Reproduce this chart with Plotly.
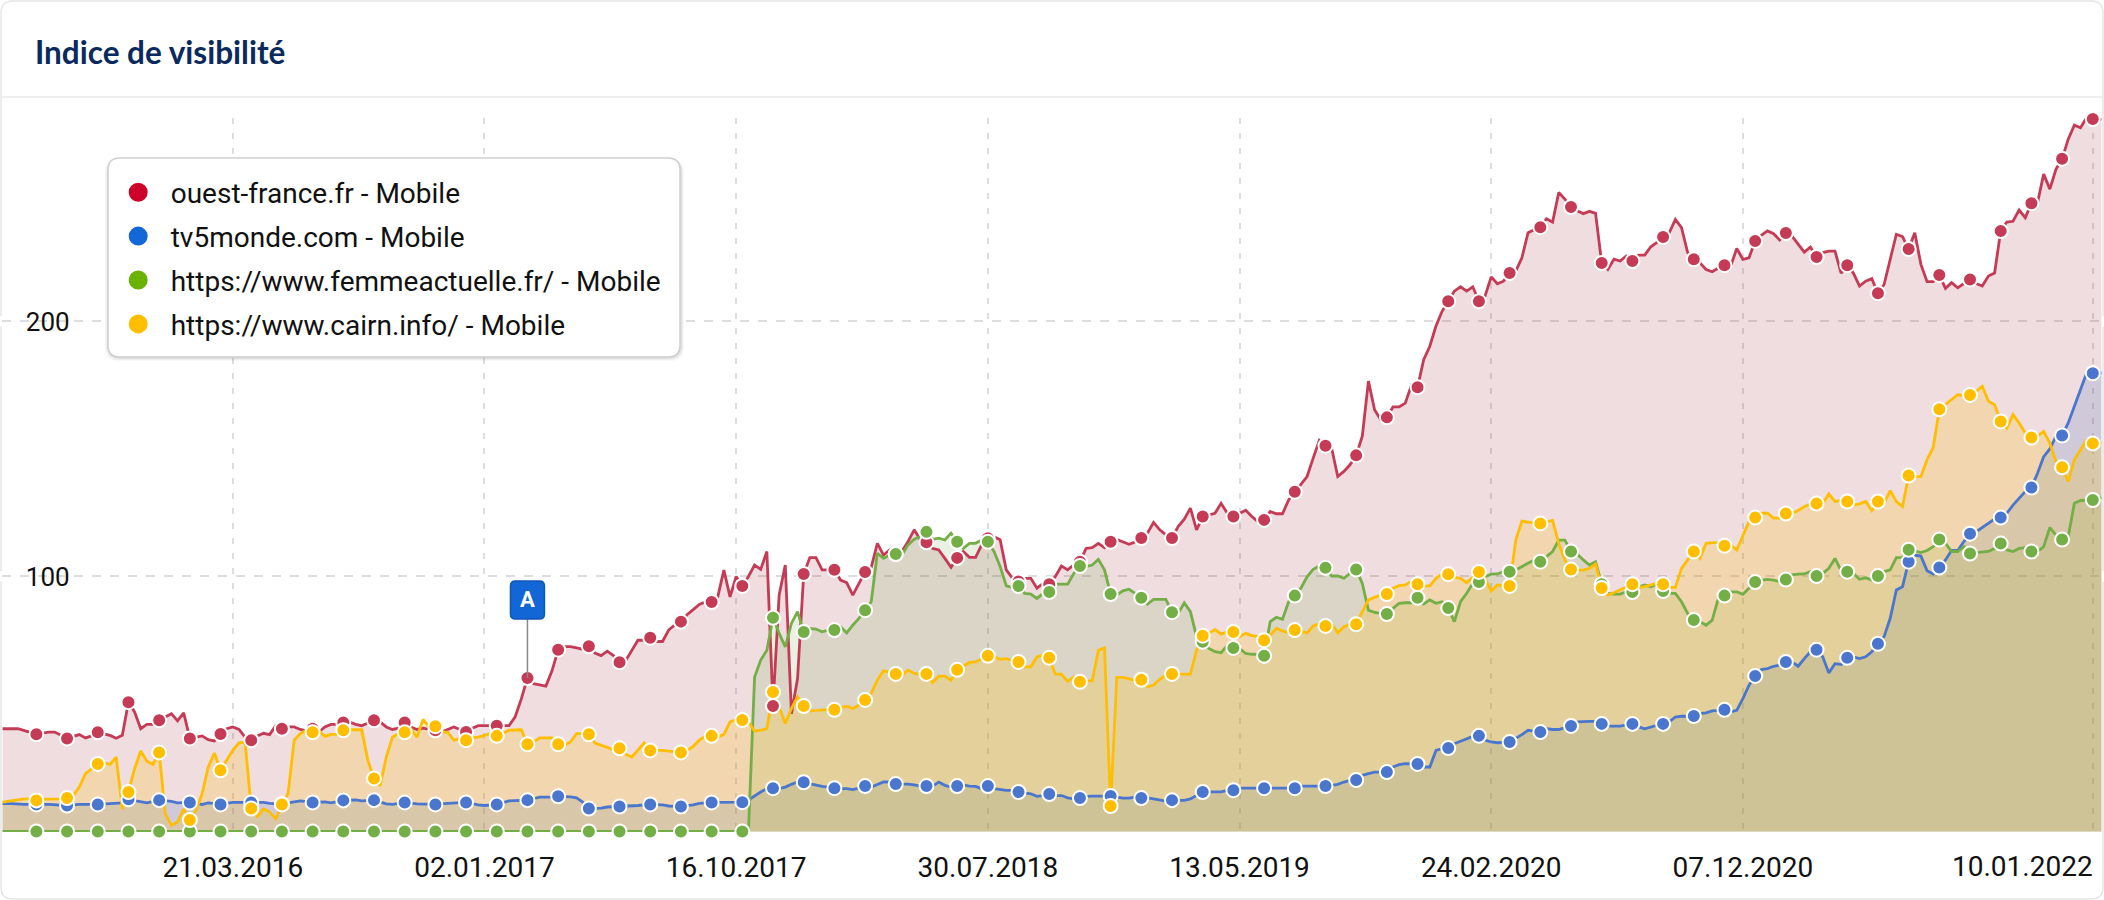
from datetime import datetime, timedelta
import plotly.graph_objects as go

START = datetime(2016, 3, 21)

tick_dates = ["2016-03-21", "2017-01-02", "2017-10-16", "2018-07-30", "2019-05-13",
              "2020-02-24", "2020-12-07", "2022-01-10"]
tick_labels = ["21.03.2016", "02.01.2017", "16.10.2017", "30.07.2018", "13.05.2019",
               "24.02.2020", "07.12.2020", ""]
last_tick_label = "10.01.2022"

# weeks counted from 21.03.2016; a dot every five weeks
dot_weeks = [-32 + 5 * k for k in range(68)]

ouest_dots = [38.1, 36.5, 38.9, 50.7, 43.6, 36.5, 38.2, 35.8, 40.3, 40.3, 42.7, 43.6, 42.7, 39.7, 39.0, 41.5, 60.2,
              71.3, 72.6, 66.4, 76.0, 82.3, 90.0, 96.3, 49.2, 101.0, 102.6, 101.8, 108.8, 113.4, 107.3, 115.0, 98.0,
              97.0, 105.8, 113.6, 115.1, 115.1, 123.5, 123.5, 122.2, 133.2, 151.3, 147.5, 162.4, 174.2, 207.9, 207.9,
              219.0, 237.0, 244.9, 222.9, 223.7, 233.1, 224.4, 222.1, 231.6, 234.7, 225.3, 222.1, 211.1, 228.4, 218.2,
              216.5, 235.5, 246.4, 263.8, 279.4]
tv5_dots = [10.6, 10.2, 10.6, 12.6, 12.3, 11.4, 10.6, 11.4, 10.8, 11.4, 12.2, 12.3, 11.4, 10.6, 11.4, 10.6, 12.3,
            13.8, 9.0, 9.8, 10.6, 9.8, 11.4, 11.5, 17.0, 19.3, 17.0, 17.8, 18.6, 17.8, 17.8, 17.8, 15.5, 14.7, 13.1,
            13.9, 13.1, 12.3, 15.5, 16.2, 17.0, 17.0, 17.8, 20.2, 23.3, 26.5, 32.7, 37.5, 35.1, 39.0, 41.4, 42.2, 42.2,
            42.2, 45.3, 47.7, 61.0, 66.5, 71.3, 68.1, 73.6, 105.8, 103.5, 116.8, 123.1, 134.9, 155.3, 179.7]
femme_dots = [0.0] * 24 + [83.8, 78.2, 79.0, 86.8, 108.8, 117.5, 113.6, 113.6, 96.3, 93.9, 104.1, 93.1, 91.7, 86.0,
                            74.4, 72.0, 68.9, 92.5, 103.4, 102.7, 85.3, 91.7, 87.6, 97.8, 101.9, 105.8, 109.8, 97.0,
                            93.9, 94.3, 82.9, 92.5, 97.8, 98.8, 100.2, 101.9, 100.2, 110.5, 114.5, 109.0, 112.9, 109.8,
                            114.5, 130.0]
cairn_dots = [12.2, 13.1, 26.5, 15.5, 31.0, 4.5, 24.0, 9.0, 10.6, 38.9, 39.7, 20.8, 38.9, 41.3, 35.8, 37.5, 34.2, 34.2,
              38.1, 32.6, 31.8, 31.0, 37.5, 43.7, 54.7, 49.2, 47.7, 51.6, 61.8, 61.8, 63.4, 68.9, 66.5, 68.1, 58.7, 10.0,
              59.5, 61.8, 76.8, 78.2, 75.0, 79.0, 80.6, 81.3, 93.1, 97.0, 100.9, 101.8, 96.3, 120.8, 102.7, 95.5, 97.0,
              97.0, 109.8, 112.1, 123.1, 124.7, 128.6, 129.4, 129.4, 139.6, 165.6, 171.2, 160.8, 154.5, 142.8, 152.2]

# readings of the line between the dots: week -> value
ouest_between = {
    -37.5: 40.3, -35: 40.3, -33: 38.9, -30: 39, -29: 39, -25: 38, -24: 36.7, -23: 37.5, -20: 37.7, -19: 36.6, -18: 37.7,
    -16: 46.9, -15: 40.3, -14: 42, -13: 42, -10: 46.2, -9: 43.4, -8: 46.5, -5: 37.5, -4: 36, -3: 35.5, -1: 40.3, 0: 41,
    1: 40, 2: 37, 4: 37.5, 5: 38.5, 6: 38, 7: 41.5, 9: 41, 10: 41, 11: 40, 12: 39.5, 14: 39, 15: 41, 16: 42, 17: 42,
    19: 43, 20: 42, 21: 41.5, 22: 42.5, 24: 43, 25: 41, 26: 40, 27: 40.5, 29: 41, 30: 40, 31: 40.5, 32: 40, 34: 39,
    35: 40, 36: 41, 37: 40, 39: 40.5, 40: 41.5, 41: 41.5, 42: 41.5, 44: 41.5, 45: 41.5, 46: 45, 47: 52, 49: 58, 50: 57.5,
    51: 57, 52: 63, 54: 72.5, 55: 72.5, 56: 72, 57: 71.5, 59: 70, 60: 69, 61: 70.7, 62: 69, 64: 67, 65: 71, 66: 75, 67: 75,
    69: 74.5, 70: 74.5, 71: 79, 72: 81, 74: 85, 75: 87, 76: 89, 77: 90, 79: 92, 80: 102.5, 81: 92, 82: 100, 84: 100,
    85: 104.5, 86: 102.8, 87: 109.8, 89: 92.7, 90: 104.5, 91: 46.2, 92: 60, 94: 107.4, 95: 107.4, 96: 102.6, 97: 102.6,
    99: 98.6, 100: 97.6, 101: 92.7, 102: 97, 104: 103.6, 105: 113, 106: 108.4, 107: 110.4, 109: 109.8, 110: 113.7,
    111: 118.3, 112: 114.4, 114: 111, 115: 110.4, 116: 107.1, 117: 103.6, 119: 109.8, 120: 107.5, 121: 107.5, 122: 112.4,
    124: 115.6, 125: 114.4, 126: 102.6, 127: 99.3, 129: 99.3, 130: 99.3, 131: 95.4, 132: 97.3, 134: 100, 135: 104.1,
    136: 102.6, 137: 104.5, 139: 111, 140: 111.3, 141: 113, 142: 111.3, 144: 114.5, 145: 113.7, 146: 112.6, 147: 113.5,
    149: 117, 150: 121.2, 151: 118.3, 152: 116.3, 154: 119.6, 155: 122.5, 156: 126.8, 157: 118.3, 159: 124, 160: 124.8,
    161: 128.7, 162: 124.8, 164: 124.8, 165: 126, 166: 123.5, 167: 121.5, 169: 125.5, 170: 124.6, 171: 124.6, 172: 130,
    174: 136, 175: 139.2, 176: 146.4, 177: 153.4, 179: 150.4, 180: 139.2, 181: 141.2, 182: 143.8, 184: 155, 185: 176.6,
    186: 165.4, 187: 161.5, 189: 166.5, 190: 166.5, 191: 168, 192: 175, 194: 185, 195: 190.3, 196: 198.2, 197: 204,
    199: 211.9, 200: 213.6, 201: 211.9, 202: 213.6, 204: 210, 205: 217.5, 206: 214.8, 207: 215.8, 209: 219.8, 210: 225,
    211: 234.8, 212: 236, 214: 240.3, 215: 239, 216: 250.6, 217: 248, 219: 243.4, 220: 242.3, 221: 243.2, 222: 242.4,
    224: 220.4, 225: 224.4, 226: 223.7, 227: 225.7, 229: 226, 230: 226, 231: 229.3, 232: 231, 234: 234.8, 235: 240,
    236: 236.8, 237: 227, 239: 223, 240: 220.4, 241: 219.5, 242: 221, 244: 221.7, 245: 228.6, 246: 224.4, 247: 225,
    249: 233.8, 250: 235.5, 251: 234.4, 252: 232, 254: 233.5, 255: 230.3, 256: 227.2, 257: 229.2, 259: 227, 260: 227.6,
    261: 227.6, 262: 219, 264: 219, 265: 213.9, 266: 215.8, 267: 216.8, 269: 214.5, 270: 225, 271: 234.2, 272: 233.3,
    274: 234.8, 275: 222.4, 276: 215.6, 277: 215.6, 279: 213, 280: 215.2, 281: 213.2, 282: 214.9, 284: 214.9, 285: 213.9,
    286: 217.8, 287: 219, 289: 239, 290: 239.3, 291: 243.7, 292: 240.7, 294: 246.6, 295: 257.8, 296: 251.9, 297: 259.7,
    299: 271.5, 300: 277, 301: 276, 302: 280, 304.4: 279.4,
}
tv5_between = {
    -37.5: 10.9, -36: 10.9, -34: 10.6, -30: 10.6, -25: 10.6, -20: 11, -18: 11.2, -15: 11.5, -14: 11.2, -10: 11.8, -9: 11.2,
    -5: 10.6, -4: 11.2, 0: 11.4, 5: 11.4, 6: 11.0, 10: 11.6, 11: 12.0, 15: 11.6, 16: 11.2, 20: 12.4, 21: 12, 25: 10.8,
    26: 10.6, 30: 10.8, 31: 10.8, 35: 11.0, 36: 11.2, 40: 10.4, 41: 10.2, 45: 12.0, 50: 13.5, 51: 13.5, 52: 13.5, 55: 13.6,
    56: 13.2, 57: 11.5, 60: 9.2, 61: 9.6, 65: 9.9, 66: 10.2, 70: 10.4, 71: 10, 75: 10.4, 76: 11, 80: 11.5, 81: 11.5,
    84: 12.4, 85: 14.1, 86: 15.5, 87: 16.8, 89: 16.8, 90: 17.4, 91: 18.5, 92: 19.4, 94: 18.7, 95: 18.1, 96: 17.7, 97: 17.4,
    99: 16.8, 100: 16.8, 101: 16.4, 102: 17, 104: 17.4, 105: 18.5, 106: 19.4, 107: 19.4, 109: 18.6, 110: 18.6, 111: 18.3,
    112: 17.8, 114: 17.8, 115: 19.4, 116: 18.1, 117: 17.4, 119: 18.3, 120: 17.8, 121: 17.7, 122: 16.8, 124: 16.8, 125: 16.4,
    126: 16.1, 127: 16.1, 129: 15.1, 130: 14.8, 131: 13.8, 132: 14.1, 134: 14.1, 135: 14.1, 136: 13.2, 137: 12.8, 139: 13.8,
    140: 13.9, 141: 13.8, 142: 13.9, 144: 13.5, 145: 13.1, 146: 13.1, 147: 13.5, 149: 13.2, 150: 12.8, 151: 12.4, 152: 11.9,
    154: 12.2, 155: 12.2, 156: 12.8, 157: 14.1, 159: 15.5, 160: 15.5, 161: 15.5, 162: 16.1, 164: 17, 165: 17, 166: 17,
    167: 17, 169: 16.8, 170: 16.8, 171: 17, 172: 17, 174: 17.8, 175: 17.8, 176: 17.8, 177: 17.8, 179: 18.1, 180: 18.5,
    181: 19.4, 182: 20, 184: 22, 185: 22.7, 186: 23.3, 187: 23.3, 189: 25.3, 190: 26.2, 191: 26.6, 192: 26.6, 194: 25.3,
    195: 25.3, 196: 31.8, 197: 32.5, 199: 34.4, 200: 35.4, 202: 37.3, 204: 35.8, 205: 35.1, 206: 34.8, 209: 36.4, 210: 38,
    211: 39.7, 214: 40.3, 215: 40, 216: 40, 219: 43, 220: 43.2, 221: 43.2, 222: 43.2, 224: 41.3, 225: 41.3, 226: 41.3,
    229: 41, 230: 40.3, 231: 41, 232: 41.4, 234: 43, 235: 44.9, 236: 45.2, 237: 45.2, 239: 46.2, 240: 46.5, 241: 47.3,
    244: 46.9, 245: 47.5, 246: 52.1, 247: 57.4, 249: 63.5, 250: 63.9, 251: 64.8, 252: 65.2, 254: 66.5, 255: 64.8, 256: 67.8,
    257: 70.5, 259: 68.5, 260: 62.2, 261: 65.8, 262: 65.5, 264: 68.5, 265: 67.8, 266: 68.5, 267: 70.5, 269: 76.4, 270: 83.6,
    271: 94.7, 272: 96, 274: 108.4, 275: 108, 276: 102.3, 277: 101, 279: 106.5, 280: 110.2, 281: 110.2, 282: 113.7,
    284: 117.6, 285: 119.3, 286: 120.9, 287: 122.5, 289: 124.8, 290: 128, 291: 130.7, 292: 133.3, 294: 140.5, 295: 147,
    296: 150, 297: 155, 299: 160.2, 300: 166.7, 301: 173.3, 302: 179.8, 304.4: 179.8,
}
femme_between = {
    -37.5: 0, 84: 0, 85: 60.6, 86: 67.2, 87: 71.1, 89: 77.7, 90: 72.4, 91: 81.6, 92: 86.2, 94: 79.6, 95: 79.4, 96: 78.3,
    97: 79, 99: 80.3, 100: 77.9, 101: 80.9, 102: 83.6, 104: 90.1, 105: 109.1, 106: 107.1, 107: 108.4, 109: 108.4, 110: 112.4,
    111: 114.6, 112: 115.7, 114: 114.6, 115: 115, 116: 114.3, 117: 117, 119: 111, 120: 113, 121: 113, 122: 114.3, 124: 109.8,
    125: 103.9, 126: 96.3, 127: 95.7, 129: 93.4, 130: 93.1, 131: 91.4, 132: 93.4, 134: 97, 135: 97, 136: 97, 137: 101.2,
    139: 103.9, 140: 104.5, 141: 106.7, 142: 102.6, 144: 92.7, 145: 94.4, 146: 95, 147: 93.4, 149: 89.2, 150: 91, 151: 91,
    152: 91, 154: 85.5, 155: 89.7, 156: 86.2, 157: 76.4, 159: 71.8, 160: 70.5, 161: 70.1, 162: 73, 164: 71.8, 165: 69.8,
    166: 69.5, 167: 69.5, 169: 82.3, 170: 84, 171: 83.2, 172: 90.1, 174: 95.4, 175: 99.9, 176: 102.8, 177: 104.1, 179: 100.2,
    180: 100.2, 181: 99.3, 182: 101.2, 184: 97.3, 185: 86.8, 186: 85.9, 187: 85.5, 189: 87.5, 190: 89.5, 191: 89.7, 192: 89.7,
    194: 89.2, 195: 90.8, 196: 89.5, 197: 90.1, 199: 82.3, 200: 90.1, 201: 93.4, 202: 97.3, 204: 99.9, 205: 100.9, 206: 101,
    207: 101.9, 209: 102.6, 210: 103.9, 211: 105.4, 212: 106.5, 214: 107.8, 215: 109.8, 216: 114.3, 217: 114.3, 219: 108.8,
    220: 106.5, 221: 104.5, 222: 105.8, 224: 93.4, 225: 93.1, 226: 93.1, 227: 94, 229: 96, 230: 96.7, 231: 96, 232: 97,
    234: 93.4, 235: 93.4, 236: 90.1, 237: 85.5, 239: 82.3, 240: 80.9, 241: 82.9, 242: 91.5, 244: 94, 245: 94, 246: 93,
    247: 95.4, 249: 98.6, 250: 98.9, 251: 98.6, 252: 98, 254: 100.6, 255: 100.9, 256: 101, 257: 101.9, 259: 101.2, 260: 103.2,
    261: 107.1, 262: 102.3, 264: 101.2, 265: 98.9, 266: 99.5, 267: 98.6, 269: 101.9, 270: 102.6, 271: 107.4, 272: 107.5,
    274: 110, 275: 109.4, 276: 110.2, 277: 111.7, 279: 113, 280: 109.8, 281: 109.8, 282: 111.7, 284: 109.4, 285: 109.5,
    286: 109.8, 287: 111, 289: 110.4, 290: 109.8, 291: 111, 292: 111.3, 294: 109.8, 295: 111.7, 296: 119.2, 297: 116.3,
    299: 115.7, 300: 128.7, 301: 129.8, 302: 130, 304.4: 131,
}
cairn_between = {
    -37.5: 11.5, -36: 12, -35: 12.4, -34: 12.8, -33: 12.8, -31: 12.7, -30: 12.7, -29: 12.7, -28: 12.8, -26: 14.1, -25: 17.4,
    -24: 22.7, -23: 24.6, -21: 26.9, -20: 26.3, -19: 29.2, -18: 8.9, -16: 24.6, -15: 31.6, -14: 27.6, -13: 26.3, -11: 6.9,
    -10: 2.4, -9: 3.7, -8: 8.9, -6: 8.3, -5: 14.8, -4: 25.3, -3: 30.8, -1: 27.9, 0: 31.8, 1: 34.8, 2: 35.1, 4: 5.9, 5: 8.9,
    6: 7.6, 7: 5, 9: 14.8, 10: 35.8, 11: 38.4, 12: 39.7, 14: 39.7, 15: 37.3, 16: 38.1, 17: 38.1, 19: 39.9, 20: 39.9, 21: 39.9,
    22: 27.9, 24: 18, 25: 29.2, 26: 37, 27: 38.4, 29: 40.3, 30: 37, 31: 43.9, 32: 41, 34: 39, 35: 39, 36: 35.8, 37: 36.4,
    39: 36.8, 40: 37, 41: 37.7, 42: 38.4, 44: 38.4, 45: 39.7, 46: 39.9, 47: 39.9, 49: 35.1, 50: 36.7, 51: 36.7, 52: 36.7,
    54: 33.8, 55: 35.1, 56: 38.4, 57: 38.4, 59: 34.7, 60: 33.8, 61: 33.1, 62: 32.1, 64: 30.3, 65: 29.2, 66: 31.8, 67: 34.7,
    69: 31.8, 70: 31.8, 71: 31.5, 72: 31.2, 74: 31.8, 75: 33.4, 76: 35.8, 77: 37.5, 79: 37, 80: 38.1, 81: 43, 82: 43.9,
    84: 43, 85: 39.4, 86: 39.7, 87: 40.3, 89: 48.9, 90: 42.3, 91: 48.2, 92: 52.8, 94: 47.3, 95: 47.5, 96: 47.8, 97: 47.8,
    99: 48.6, 100: 49.1, 101: 48.2, 102: 49.5, 104: 54.1, 105: 59.3, 106: 63, 107: 62.6, 109: 61.3, 110: 63.3, 111: 62,
    112: 61.7, 114: 58.4, 115: 60.9, 116: 60.9, 117: 59.3, 119: 64.8, 120: 66.3, 121: 66.5, 122: 67.8, 124: 68.5, 125: 67.5,
    126: 67.8, 127: 67.2, 129: 64.6, 130: 64.6, 131: 68.5, 132: 69.2, 134: 61.7, 135: 61.7, 136: 58.9, 137: 60.6, 139: 59.1,
    140: 59.1, 141: 71.1, 142: 72, 144: 60.4, 145: 60.4, 146: 59.7, 147: 59.3, 149: 56.7, 150: 57.4, 151: 59.7, 152: 61.3,
    154: 61.7, 155: 61.7, 156: 61.7, 157: 71.1, 159: 77.7, 160: 79.2, 161: 77.4, 162: 78.3, 164: 76.4, 165: 77.7, 166: 76.8,
    167: 76.4, 169: 77, 170: 79.6, 171: 78.7, 172: 77.9, 174: 78.3, 175: 77.9, 176: 80.6, 177: 81.6, 179: 81.6, 180: 77.9,
    181: 80.3, 182: 81.3, 184: 86.2, 185: 90.8, 186: 91.8, 187: 92.7, 189: 95.4, 190: 96.4, 191: 96.7, 192: 98, 194: 96.3,
    195: 96.3, 196: 99.3, 197: 101, 199: 99.7, 200: 99.3, 201: 97.6, 202: 99.9, 204: 99.3, 205: 94.3, 206: 96.7, 207: 96.3,
    209: 114.3, 210: 121.7, 211: 121.2, 212: 120.9, 214: 121.5, 215: 122, 216: 113, 217: 106.5, 219: 102.7, 220: 102.5,
    221: 103.2, 222: 104.9, 224: 92.7, 225: 93.6, 226: 94.7, 227: 96, 229: 95.7, 230: 96, 231: 96.7, 232: 97.3, 234: 95.7,
    235: 95.7, 236: 103.2, 237: 106.5, 239: 107.1, 240: 113, 241: 113.3, 242: 113.3, 244: 112.4, 245: 110.4, 246: 116.3,
    247: 121.6, 249: 124.8, 250: 124.8, 251: 122.9, 252: 122.9, 254: 124.8, 255: 125.9, 256: 127.4, 257: 128.5, 259: 128.5,
    260: 132.4, 261: 129.4, 262: 129.8, 264: 128, 265: 128.5, 266: 129.4, 267: 125.9, 269: 128.7, 270: 133.7, 271: 129.4,
    272: 127.4, 274: 139.2, 275: 139.2, 276: 145.8, 277: 150.6, 279: 167.4, 280: 169.4, 281: 171.3, 282: 170.9, 284: 172.6,
    285: 174.6, 286: 168.7, 287: 167.4, 289: 158.2, 290: 163.5, 291: 160.2, 292: 156.3, 294: 155, 295: 156.9, 296: 152.3,
    297: 145.1, 299: 137.3, 300: 145.8, 301: 149.7, 302: 153.6, 304.4: 152.2,
}

event_week = 48
event_value = 60.2

series = [
    ("ouest-france.fr - Mobile", ouest_dots, ouest_between, "#c53b55", "rgba(150,30,50,0.15)", "#cc0029"),
    ("tv5monde.com - Mobile", tv5_dots, tv5_between, "#4a76cd", "rgba(30,90,190,0.15)", "#1367d7"),
    ("https://www.femmeactuelle.fr/ - Mobile", femme_dots, femme_between, "#74ae47", "rgba(110,170,60,0.15)", "#69b300"),
    ("https://www.cairn.info/ - Mobile", cairn_dots, cairn_between, "#ffbe00", "rgba(255,190,0,0.22)", "#ffbe00"),
]


def week_date(w):
    return (START + timedelta(days=7 * w)).strftime("%Y-%m-%d %H:%M")


# page pixel -> paper fraction
PL, PR, PT, PB = 2, 2102, 118, 832
def fx(px):
    return (px - PL) / (PR - PL)
def fy(py):
    return (PB - py) / (PB - PT)


def rounded(x0, y0, x1, y1, r):
    p = [("M", x0 + r, y0), ("L", x1 - r, y0), ("Q", x1, y0, x1, y0 + r), ("L", x1, y1 - r), ("Q", x1, y1, x1 - r, y1),
         ("L", x0 + r, y1), ("Q", x0, y1, x0, y1 - r), ("L", x0, y0 + r), ("Q", x0, y0, x0 + r, y0)]
    out = []
    for seg in p:
        nums = seg[1:]
        coords = []
        for i in range(0, len(nums), 2):
            coords.append(f"{fx(nums[i]):.6f},{fy(nums[i + 1]):.6f}")
        out.append(seg[0] + " " + " ".join(coords))
    return " ".join(out) + " Z"


fig = go.Figure()
lines = []
for name, dots, between, line_c, fill_c, legend_c in series:
    merged = dict(between)
    merged.update(dict(zip(dot_weeks, dots)))
    weeks = sorted(merged)
    xs = [week_date(w) for w in weeks]
    ys = [merged[w] for w in weeks]
    lines.append((xs, ys, line_c))
    fig.add_trace(go.Scatter(x=xs, y=ys, mode="none", fill="tozeroy", fillcolor=fill_c,
                             showlegend=False, hoverinfo="skip"))
for xs, ys, line_c in lines:
    fig.add_trace(go.Scatter(x=xs, y=ys, mode="lines", line=dict(color=line_c, width=2.8),
                             showlegend=False, hoverinfo="skip", cliponaxis=False))
for name, dots, between, line_c, fill_c, legend_c in series:
    fig.add_trace(go.Scatter(
        x=[week_date(w) for w in dot_weeks], y=dots, mode="markers",
        marker=dict(color=line_c, size=14, line=dict(color="white", width=2)),
        name=name, showlegend=False, cliponaxis=False))

for i, (name, dots, between, line_c, fill_c, legend_c) in enumerate(series):
    fig.add_trace(go.Scatter(
        x=[None], y=[None], mode="markers", name=name, legendgroup=str(i),
        marker=dict(color=legend_c, size=16, line=dict(color=legend_c, width=3)), showlegend=True))

shapes = [
    dict(type="path", xref="paper", yref="paper", layer="below", path=rounded(1, 1, 2103, 899, 12),
         line=dict(color="#e6e6e6", width=1.5), fillcolor="white"),
    dict(type="line", xref="paper", yref="paper", x0=fx(1), x1=fx(2103), y0=fy(97), y1=fy(97),
         line=dict(color="#ebebeb", width=1.5)),
]
# masks around the axis labels and the grid ends
for v in (100, 200):
    shapes.append(dict(type="rect", xref="paper", yref="y", layer="between", x0=fx(0), x1=fx(14), y0=v - 2, y1=v + 2,
                       fillcolor="white", line_width=0))
    shapes.append(dict(type="rect", xref="paper", yref="y", layer="between", x0=fx(21), x1=fx(76), y0=v - 2, y1=v + 2,
                       fillcolor="white", line_width=0))
    shapes.append(dict(type="rect", xref="paper", yref="y", layer="between", x0=fx(2087), x1=fx(2104), y0=v - 2, y1=v + 2,
                       fillcolor="white", line_width=0))
# legend card with a soft shadow
for off, alpha in ((4, 0.03), (3, 0.04), (2, 0.05)):
    shapes.append(dict(type="path", xref="paper", yref="paper", layer="above",
                       path=rounded(108 - off + 1, 158 + 1, 680 + off, 357 + off, 14),
                       fillcolor=f"rgba(0,0,0,{alpha})", line_width=0))
shapes.append(dict(type="path", xref="paper", yref="paper", layer="above", path=rounded(108, 158, 680, 357, 12),
                   fillcolor="white", line=dict(color="#cfcfcf", width=1.5)))
# event flag anchored on the data point
fx_anchor = week_date(event_week)
shapes.append(dict(type="path", xref="x", yref="y", xsizemode="pixel", ysizemode="pixel",
                   xanchor=fx_anchor, yanchor=event_value, layer="above",
                   path="M 0 0 L 0 60", line=dict(color="#8a8a8a", width=1.5)))
shapes.append(dict(type="path", xref="x", yref="y", xsizemode="pixel", ysizemode="pixel",
                   xanchor=fx_anchor, yanchor=event_value, layer="above",
                   path="M -12 59 L 12 59 Q 17 59 17 64 L 17 92 Q 17 97 12 97 L -12 97 Q -17 97 -17 92 L -17 64 Q -17 59 -12 59 Z",
                   fillcolor="#1266d6", line=dict(color="#0f57b5", width=1.5)))

annotations = [
    dict(text="<b>Indice de visibilité</b>", xref="paper", yref="paper", x=fx(33), y=fy(52), xanchor="left",
         yanchor="middle", showarrow=False, font=dict(family="Lato", size=31.5, color="#0a2a5e")),
    dict(text=last_tick_label, xref="x", yref="paper", x=tick_dates[-1], y=fy(866), xanchor="right", yanchor="middle",
         showarrow=False, xshift=2, font=dict(family="Roboto", size=28, color="#111")),
    dict(text="<b>A</b>", xref="x", yref="y", x=fx_anchor, y=event_value, yshift=78, showarrow=False,
         font=dict(family="Roboto", size=22, color="white")),
]

fig.update_layout(
    width=2104, height=900, autosize=False, margin=dict(l=PL, r=2104 - PR, t=PT, b=900 - PB),
    paper_bgcolor="white", plot_bgcolor="rgba(0,0,0,0)", font=dict(family="Roboto", size=28, color="#111"),
    shapes=shapes, annotations=annotations, hovermode="closest",
    legend=dict(x=fx(105.7), y=fy(167.5), xanchor="left", yanchor="top", bgcolor="rgba(0,0,0,0)", borderwidth=0,
                traceorder="grouped", tracegroupgap=4.5, itemwidth=55, itemclick=False, itemdoubleclick=False,
                font=dict(family="Roboto", size=28, color="#111")),
    xaxis=dict(type="date", range=[week_date(-37.6), week_date(304.5)], tickmode="array", tickvals=tick_dates,
               ticktext=tick_labels, ticks="outside", ticklen=10, tickcolor="rgba(0,0,0,0)", showgrid=True,
               gridcolor="#dddddd", griddash="6px,9px", gridwidth=1.5, zeroline=False, showline=False,
               tickfont=dict(family="Roboto", size=28, color="#111")),
    yaxis=dict(range=[-0.2, 279.8], tickmode="array", tickvals=[100, 200], ticktext=["100", "200"], ticks="inside",
               ticklen=26, tickcolor="rgba(0,0,0,0)", ticklabelposition="inside", showgrid=True, gridcolor="#dddddd",
               griddash="9px,9px", gridwidth=1.5, zeroline=False, showline=False,
               tickfont=dict(family="Roboto", size=26, color="#111")),
)

fig.write_html("out.html", post_script="document.body.style.margin='0';", config={"displayModeBar": False})
